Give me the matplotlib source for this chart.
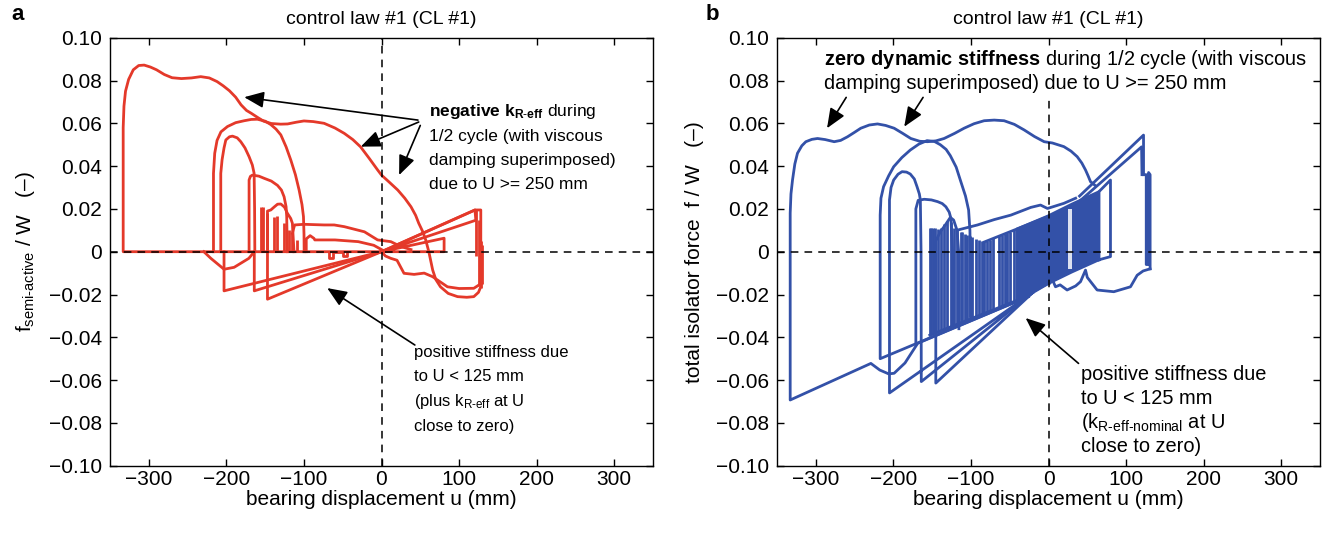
import numpy as np
import matplotlib.pyplot as plt

plt.rcParams['font.family'] = ['Liberation Sans', 'DejaVu Sans']
plt.rcParams['mathtext.fontset'] = 'custom'
plt.rcParams['mathtext.rm'] = 'Liberation Sans'
plt.rcParams['mathtext.bf'] = 'Liberation Sans:bold'
plt.rcParams['mathtext.it'] = 'Liberation Sans:italic'

RED = '#e4392a'
BLUE = '#3351a8'
LW = 2.0

# -----------------------------
# panel a: semi-active force (u in mm, f/W)
# -----------------------------
a_outer_u = [0, -333, -333, -332, -330, -326, -320, -313, -306, -298, -290, -280, -270, -258, -245, -233, -222,
             -212, -204, -196, -188, -181, -174, -168, -160, -152, -142, -130, -121, -110, -100, -88, -74, -60,
             -48, -37, -27, -16, -5, 0, 10, 21, 30, 38, 44, 48, 53, 57, 61, 66, 70, 76, 86, 98, 110, 119, 125,
             128, 128, 120.5, 0]
a_outer_f = [0, 0, 0.058, 0.068, 0.075, 0.0805, 0.085, 0.087, 0.0872, 0.0863, 0.085, 0.0828, 0.0813, 0.0809,
             0.0812, 0.0818, 0.0812, 0.0795, 0.0775, 0.0752, 0.0722, 0.0686, 0.066, 0.0647, 0.0628, 0.061,
             0.0599, 0.0596, 0.0597, 0.0605, 0.0611, 0.0608, 0.060, 0.0578, 0.0553, 0.0524, 0.049, 0.0437,
             0.0382, 0.0358, 0.0325, 0.0288, 0.025, 0.021, 0.017, 0.0133, 0.0095, 0.0055, 0, -0.0086, -0.013,
             -0.0164, -0.0195, -0.021, -0.0213, -0.021, -0.019, -0.0164, 0.0195, 0.0195, 0]

a_b_u = [-216.6, -216.6, -215, -212, -207, -198.5, -188, -177, -168, -160, -150, -142.7, -136, -129.8, -123,
         -116.9, -111, -106.2, -102.5, -100.6, -99.9, -99.7]
a_b_f = [0, 0.0366, 0.046, 0.052, 0.056, 0.0585, 0.0603, 0.0612, 0.0618, 0.0619, 0.061, 0.0594, 0.0573,
         0.0546, 0.049, 0.0428, 0.036, 0.0288, 0.022, 0.0164, 0.008, 0]

a_c_u = [-207.2, -207.2, -205.5, -203, -200.7, -196, -192.1, -186, -181.4, -176, -170.7, -166.5, -164.2,
         -163.6, -163.3]
a_c_f = [0, 0.0366, 0.043, 0.0485, 0.0522, 0.0537, 0.054, 0.0532, 0.0514, 0.0485, 0.0444, 0.0405, 0.0366,
         0.02, 0]

a_d_u = [-170.7, -170.7, -169, -166.4, -158, -151.3, -142, -134.1, -129, -125.6, -123, -122.2, -121.4]
a_d_f = [0, 0.0335, 0.0352, 0.0358, 0.0353, 0.0343, 0.033, 0.031, 0.0288, 0.0257, 0.021, 0.0164, 0]

a_e_u = [-147, -147, -142.7, -138, -134, -129.8, -125, -121.4, -117, -114.9, -112.8]
a_e_f = [0, 0.019, 0.0195, 0.021, 0.0222, 0.0223, 0.0208, 0.018, 0.0155, 0.0133, 0]

a_spike_u = [-155.6, -152.2, -147, -138.4, -134.1, -125.6, -119.2, -114.9, -108.5]
a_spike_f = [0.021, 0.021, 0.018, 0.0164, 0.0169, 0.0133, 0.0101, 0.0086, 0.0055]

a_flat1_u = [-114.9, -112, -100, -74, -61, -48, -22, -5, 12, 25, 38]
a_flat1_f = [0.0086, 0.0125, 0.0128, 0.0125, 0.0125, 0.0117, 0.0093, 0.0055, 0.0047, 0.0024, 0.001]

a_flat2_u = [-97, -97, -92, -87, -86, -60, -30, -10, 0]
a_flat2_f = [0, 0.006, 0.0075, 0.0062, 0.0055, 0.0055, 0.0047, 0.003, 0.001]

a_tri_u = [0, 120.5, 121.6, 0, 80.7, 80.7, 0]
a_tri_f = [0, 0.0195, 0.0147, 0, 0.0063, 0, 0]

a_vert_u = [122, 125.5, 128, 130]
a_vert_lo = [-0.002, -0.016, -0.017, -0.015]
a_vert_hi = [0.0195, 0.015, 0.005, 0.003]

a_dip_u = [0, 5, 12, 20, 29, 42, 55, 66, 85, 100, 119, 128]
a_dip_f = [0, -0.002, -0.0031, -0.004, -0.0101, -0.0106, -0.010, -0.0117, -0.0164, -0.0172, -0.0171, -0.015]

a_corner_u = [-203, -164, -147]
a_corner_f = [-0.0183, -0.0183, -0.0222]

a_dipl_u = [-229, -220, -203, -190, -171, -164]
a_dipl_f = [0, -0.0031, -0.0082, -0.0073, -0.0031, 0]

a_blip_u = [-68, -68, -62, -62, -50, -50, -45, -45]
a_blip_f = [0, -0.003, -0.003, 0, 0, -0.002, -0.002, 0]

# -----------------------------
# panel b: total isolator force
# -----------------------------
b_outer_u = [-26, -168.6, -185, -199, -206, -217.5, -229, -333, -333, -332, -330, -327, -323.6, -318, -312.8,
             -305, -297.8, -288, -276.3, -268, -259.1, -250, -242, -231, -220.4, -210, -199, -188, -177.5, -166,
             -156, -145, -134.6, -121, -108.8, -96, -83, -70, -57.2, -44, -31.4, -18, -5.6, 5, 19.8, 29, 37,
             43, 47.7, 51, 54.2, 60]
b_outer_f = [-0.021, -0.0428, -0.052, -0.0568, -0.0571, -0.0553, -0.0522, -0.0693, 0.018, 0.027, 0.0335,
             0.041, 0.046, 0.0495, 0.0514, 0.0525, 0.0529, 0.0524, 0.0514, 0.052, 0.0537, 0.0558, 0.0577,
             0.0592, 0.0597, 0.059, 0.0577, 0.0553, 0.0529, 0.0516, 0.0514, 0.0518, 0.0529, 0.0553, 0.0577,
             0.0598, 0.0612, 0.0615, 0.0612, 0.0595, 0.0569, 0.0538, 0.0514, 0.0508, 0.0491, 0.047, 0.0444,
             0.0414, 0.0382, 0.0355, 0.0327, 0.031]

b_b_u = [-26, -217, -217, -216, -212.6, -206, -199.6, -189, -178.2, -167, -156.6, -147, -139.5, -132, -126.6,
         -119, -113.7, -107, -103, -101.3, -100.8, -100.5]
b_b_f = [-0.021, -0.05, 0.0171, 0.025, 0.0304, 0.0355, 0.0397, 0.044, 0.0475, 0.0503, 0.0519, 0.0515, 0.05,
         0.0478, 0.0449, 0.0395, 0.0335, 0.026, 0.0195, 0.01, 0, -0.03]

b_c_u = [-20, -205, -205, -203, -199.6, -194, -188.8, -183, -178.2, -173, -169.5, -166.5, -165.2, -164.3,
         -164, -20]
b_c_f = [-0.019, -0.066, 0.0242, 0.03, 0.0335, 0.0362, 0.0374, 0.0372, 0.0363, 0.034, 0.0304, 0.027,
         0.0242, 0, -0.0607, -0.019]

b_d_u = [-171, -171, -168, -160.2, -151, -143, -137, -132.3, -128, -125.8, -123.7, -123.5]
b_d_f = [-0.043, 0.02, 0.024, 0.0245, 0.0242, 0.0234, 0.0225, 0.021, 0.0185, 0.0156, 0, -0.034]

b_e_u = [-20, -145.3, -145.3, -139.5, -133, -126.6, -122.3, -118, -115.8, -115.5]
b_e_f = [-0.019, -0.0614, 0.005, 0.0093, 0.0125, 0.016, 0.0148, 0.0101, 0, -0.036]

b_slope_u = [-117.3, -91.5, -70, -48.5, -22.8, -10.3, -1.3, 19.8, 35]
b_slope_f = [0.0101, 0.0125, 0.015, 0.0171, 0.0207, 0.0218, 0.0202, 0.0226, 0.025]

b_ztop_u = [-83, 0]
b_ztop_f = [0.0045, 0.0165]
b_zbot_u = [-153, -30, 0]
b_zbot_f = [-0.039, -0.0212, -0.0148]

b_strip_u = [-153, -151, -149.5, -146, -143, -139, -135, -131, -126, -122, -118, -113, -111, -108, -105, -101,
             -98, -94, -90, -86, -83, -79, -75, -71, -64, -60, -56, -53, -49, -45, -40, -36, -32]
b_strip_lo = [-0.039, -0.0387, -0.0385, -0.038, -0.0375, -0.037, -0.0364, -0.0358, -0.035, -0.0344, -0.0339,
              -0.0331, -0.0328, -0.0324, -0.032, -0.0314, -0.031, -0.0303, -0.0297, -0.0292, -0.0287, -0.0281,
              -0.0275, -0.0269, -0.0259, -0.0253, -0.0247, -0.0243, -0.0237, -0.0231, -0.0224, -0.0218, -0.0212]
b_strip_hi = [0.011, 0.011, 0.011, 0.011, 0.0105, 0.011, 0.013, 0.0145, 0.014, 0.011, 0.010, 0.009, 0.009,
              0.0085, 0.008, 0.0075, 0.007, 0.006, 0.0055, 0.005, 0.0045, 0.005, 0.0057, 0.0062, 0.0072,
              0.0078, 0.0084, 0.0088, 0.0094, 0.010, 0.0107, 0.0113, 0.0118]

b_fill_u = [-40, 0, 30, 64.9, 64.9, 30, 0, -40]
b_fill_f = [-0.0224, -0.0148, -0.0095, -0.0038, 0.028, 0.0222, 0.0168, 0.0107]

b_box_u = [64.9, 64.9, 79.9, 79.9, 64.9]
b_box_f = [-0.0038, 0.028, 0.0335, -0.0023, -0.0038]

b_tip1_u = [40, 122.5, 122.5]
b_tip1_f = [0.026, 0.0545, 0.036]
b_tip2_u = [35, 120, 120.5]
b_tip2_f = [0.022, 0.049, 0.036]
b_tip3_u = [122.5, 126, 126, 129, 129, 131, 131]
b_tip3_f = [0.036, 0.036, -0.006, -0.006, 0.037, 0.036, -0.008]

b_dip_u = [1, 5, 9, 15, 24, 35, 41.3, 47.7, 50, 62.7, 84.2, 105.7, 114.3, 122, 131]
b_dip_f = [-0.015, -0.013, -0.0164, -0.0155, -0.0179, -0.016, -0.014, -0.0086, -0.012, -0.0179, -0.0187,
           -0.0164, -0.011, -0.009, -0.008]

x_ticks = [-300, -200, -100, 0, 100, 200, 300]
y_ticks = [-0.10, -0.08, -0.06, -0.04, -0.02, 0, 0.02, 0.04, 0.06, 0.08, 0.10]
y_tick_labels = ['\u22120.10', '\u22120.08', '\u22120.06', '\u22120.04', '\u22120.02', '0',
                 '0.02', '0.04', '0.06', '0.08', '0.10']

TICK_FS = 15
LABEL_FS = 15
TITLE_FS = 14
ARROW = dict(arrowstyle='-|>,head_length=0.6,head_width=0.25', color='k', lw=1.2,
             mutation_scale=20, shrinkA=0, shrinkB=0)
DASH = (0, (5, 4))


def style_axes(ax, vtop=0.1):
    ax.set_xlim(-350, 350)
    ax.set_ylim(-0.1, 0.1)
    ax.set_xticks(x_ticks)
    ax.set_yticks(y_ticks)
    ax.set_yticklabels(y_tick_labels)
    ax.tick_params(direction='in', top=True, right=True, length=5, width=1, labelsize=TICK_FS, pad=6)
    ax.tick_params(axis='x', pad=3)
    for s in ax.spines.values():
        s.set_linewidth(1.0)
    ax.axhline(0, color='k', ls=DASH, lw=1.1, zorder=5)
    ax.plot([0, 0], [-0.1, vtop], color='k', ls=DASH, lw=1.1, zorder=5)
    ax.set_title('control law #1 (CL #1)', fontsize=TITLE_FS, pad=10)
    ax.set_xlabel('bearing displacement u (mm)', fontsize=LABEL_FS, labelpad=1)


def plot_panel_a(ax):
    kw = dict(color=RED, lw=LW, solid_joinstyle='round')
    for uu, ff in [(a_outer_u, a_outer_f), (a_b_u, a_b_f), (a_c_u, a_c_f), (a_d_u, a_d_f),
                   (a_e_u, a_e_f), (a_flat1_u, a_flat1_f), (a_flat2_u, a_flat2_f),
                   (a_tri_u, a_tri_f), (a_dip_u, a_dip_f), (a_dipl_u, a_dipl_f), (a_blip_u, a_blip_f)]:
        ax.plot(uu, ff, **kw)
    ax.vlines(a_spike_u, 0, a_spike_f, color=RED, lw=LW)
    ax.vlines(a_vert_u, a_vert_lo, a_vert_hi, color=RED, lw=LW)
    for cu, cf in zip(a_corner_u, a_corner_f):
        ax.plot([0, cu, cu], [0, cf, 0], **kw)

    style_axes(ax)
    ax.set_ylabel(r'f$_{\mathrm{semi\text{-}active}}$ / W   (' + '\u2013)', fontsize=LABEL_FS, labelpad=8)

    fs = 12.5
    ax.text(61, 0.0653, r'$\mathbf{negative\ k_{R\text{-}eff}}$ during', fontsize=fs, va='center')
    ax.text(61, 0.0536, '1/2 cycle (with viscous', fontsize=fs, va='center')
    ax.text(61, 0.0424, 'damping superimposed)', fontsize=fs, va='center')
    ax.text(61, 0.0312, 'due to U >= 250 mm', fontsize=fs, va='center')
    ax.annotate('', xy=(-177, 0.0722), xytext=(47, 0.0615), arrowprops=ARROW)
    ax.annotate('', xy=(-26.7, 0.0491), xytext=(48, 0.0606), arrowprops=ARROW)
    ax.annotate('', xy=(22.7, 0.0358), xytext=(50, 0.059), arrowprops=ARROW)

    ax.text(42, -0.0469, 'positive stiffness due', fontsize=12, va='center')
    ax.text(42, -0.0585, 'to U < 125 mm', fontsize=12, va='center')
    ax.text(42, -0.0702, r'(plus k$_{\mathrm{R\text{-}eff}}$ at U', fontsize=12, va='center')
    ax.text(42, -0.0819, 'close to zero)', fontsize=12, va='center')
    ax.annotate('', xy=(-70, -0.017), xytext=(43, -0.0436), arrowprops=ARROW)


def plot_panel_b(ax):
    kw = dict(color=BLUE, lw=LW, solid_joinstyle='round')
    ax.fill(b_fill_u, b_fill_f, color=BLUE, lw=LW, ec=BLUE)
    ax.vlines([27, 28.5], [-0.008, -0.008], [0.02, 0.02], color='white', lw=1.2)
    for uu, ff in [(b_outer_u, b_outer_f), (b_b_u, b_b_f), (b_c_u, b_c_f), (b_d_u, b_d_f),
                   (b_e_u, b_e_f), (b_slope_u, b_slope_f), (b_ztop_u, b_ztop_f), (b_zbot_u, b_zbot_f),
                   (b_box_u, b_box_f), (b_tip1_u, b_tip1_f), (b_tip2_u, b_tip2_f), (b_tip3_u, b_tip3_f),
                   (b_dip_u, b_dip_f)]:
        ax.plot(uu, ff, **kw)
    ax.vlines(b_strip_u, b_strip_lo, b_strip_hi, color=BLUE, lw=LW)

    style_axes(ax, vtop=0.071)
    ax.set_ylabel('total isolator force  f / W   (\u2013)', fontsize=LABEL_FS, labelpad=8)

    fs = 14.4
    ax.text(-288.8, 0.0896, r'$\mathbf{zero\ dynamic\ stiffness}$ during 1/2 cycle (with viscous',
            fontsize=fs, va='center')
    ax.text(-288.8, 0.0784, 'damping superimposed) due to U >= 250 mm', fontsize=fs, va='center')
    ax.annotate('', xy=(-285.5, 0.0577), xytext=(-260.8, 0.0721), arrowprops=ARROW)
    ax.annotate('', xy=(-186, 0.0584), xytext=(-161.7, 0.0721), arrowprops=ARROW)

    ax.text(41.3, -0.0576, 'positive stiffness due', fontsize=fs, va='center')
    ax.text(41.3, -0.0688, 'to U < 125 mm', fontsize=fs, va='center')
    ax.text(41.3, -0.080, r'(k$_{\mathrm{R\text{-}eff\text{-}nominal}}$ at U', fontsize=fs, va='center')
    ax.text(41.3, -0.0912, 'close to zero)', fontsize=fs, va='center')
    ax.annotate('', xy=(-29.5, -0.031), xytext=(38.7, -0.0522), arrowprops=ARROW)


if __name__ == "__main__":
    fig = plt.figure(figsize=(13.25, 5.33), dpi=100)
    ax_a = fig.add_axes([110 / 1325, 67.3 / 533, 543 / 1325, 428 / 533])
    ax_b = fig.add_axes([777 / 1325, 67.3 / 533, 543 / 1325, 428 / 533])
    plot_panel_a(ax_a)
    plot_panel_b(ax_b)
    fig.text(18 / 1325, 1 - 15 / 533, 'a', fontsize=16, fontweight='bold', ha='center', va='center')
    fig.text(712 / 1325, 1 - 15 / 533, 'b', fontsize=16, fontweight='bold', ha='center', va='center')
    fig.savefig('out.png', dpi=100)
